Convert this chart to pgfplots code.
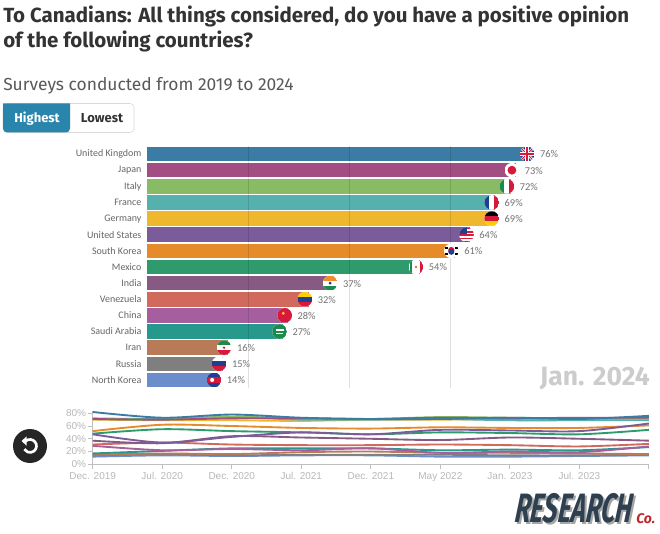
\documentclass[border=0pt]{standalone}
\usepackage{fontspec}
\setmainfont{Fira Sans}
\newfontfamily\arialf{Liberation Sans}
\newfontfamily\labelf{Carlito}
\usepackage{pgfplots}
\usepackage{pgfplotstable}
\pgfplotsset{compat=1.18}
% sizes are given in reference pixels, 1px = 0.75pt
\newcommand\fs[1]{\fontsize{\fpeval{#1*0.75}}{\fpeval{#1*0.9}}\selectfont}

\definecolor{cUK}{HTML}{3C7CA4}
\definecolor{cJP}{HTML}{A34E82}
\definecolor{cIT}{HTML}{88BB63}
\definecolor{cFR}{HTML}{56B1AE}
\definecolor{cDE}{HTML}{EFB72E}
\definecolor{cUS}{HTML}{7A5C9A}
\definecolor{cKR}{HTML}{E58B2A}
\definecolor{cMX}{HTML}{2F9A6C}
\definecolor{cIN}{HTML}{875A83}
\definecolor{cVE}{HTML}{D2695D}
\definecolor{cCN}{HTML}{A55F9F}
\definecolor{cSA}{HTML}{27988C}
\definecolor{cIR}{HTML}{B97A58}
\definecolor{cRU}{HTML}{7F7F7F}
\definecolor{cKP}{HTML}{6A8DCB}
\definecolor{fBlue}{HTML}{1F3F8F}
\definecolor{fRed}{HTML}{D7193C}
\definecolor{fGreen}{HTML}{1B8A4B}
\definecolor{fGold}{HTML}{FFCE00}
\definecolor{fOrange}{HTML}{F28C28}

% monthly survey lines, x = tick number on the timeline
\pgfplotstableread{
x UK JP IT FR DE US KR MX IN VE CN SA IR RU KP
0 82 71 71 72 70 47 52 48 37 31 29 17 15 14 12
1 73 70 70 71 69 34 62 55 33 34 22 21 17 16 14
2 78 72 75 74 69 43 60 52 44 31 24 25 16 14 13
3 73 72 71 70 68 50 57 50 42 30 22 25 19 15 14
4 71 71 71 70 70 47 56 47 40 30 25 25 20 15 14
5 71 73 74 71 70 54 58 50 38 31 18 22 18 15 12
6 73 72 73 69 71 53 57 49 42 30 20 23 18 14 12
7 71 73 72 69 72 52 57 47 40 28 19 22 17 14 13
8 76 73 72 69 69 64 61 54 37 32 28 27 16 15 14
}\surveys

% flags are plot marks, drawn in a circle of radius \fu
\newdimen\fu \fu=5.5pt
\newcommand\fr[5]{\pgfsetfillcolor{#1}\pgfpathrectanglecorners{\pgfpoint{#2\fu}{#3\fu}}{\pgfpoint{#4\fu}{#5\fu}}\pgfusepathqfill}
\newcommand\fc[4]{\pgfsetfillcolor{#1}\pgfpathcircle{\pgfpoint{#2\fu}{#3\fu}}{#4\fu}\pgfusepathqfill}
\newcommand\fl[6]{\pgfsetstrokecolor{#1}\pgfsetlinewidth{#2\fu}\pgfpathmoveto{\pgfpoint{#3\fu}{#4\fu}}\pgfpathlineto{\pgfpoint{#5\fu}{#6\fu}}\pgfusepathqstroke}
\newcommand\flag[2]{\pgfdeclareplotmark{#1}{\pgfscope\pgfpathcircle{\pgfpointorigin}{\fu}\pgfusepathqclip\fr{white}{-1}{-1}{1}{1}#2\endpgfscope}}
\flag{fUK}{\fr{fBlue}{-1}{-1}{1}{1}\fl{white}{.35}{-1}{-1}{1}{1}\fl{white}{.35}{-1}{1}{1}{-1}\fl{fRed}{.14}{-1}{-1}{1}{1}\fl{fRed}{.14}{-1}{1}{1}{-1}\fr{white}{-1}{-.25}{1}{.25}\fr{white}{-.25}{-1}{.25}{1}\fr{fRed}{-1}{-.13}{1}{.13}\fr{fRed}{-.13}{-1}{.13}{1}}
\flag{fJP}{\fc{fRed}{0}{0}{.6}}
\flag{fIT}{\fr{fGreen}{-1}{-1}{-.33}{1}\fr{fRed}{.33}{-1}{1}{1}}
\flag{fFR}{\fr{fBlue}{-1}{-1}{-.33}{1}\fr{fRed}{.33}{-1}{1}{1}}
\flag{fDE}{\fr{black}{-1}{.33}{1}{1}\fr{fRed}{-1}{-.33}{1}{.33}\fr{fGold}{-1}{-1}{1}{-.33}}
\flag{fUS}{\fr{fRed}{-1}{.72}{1}{1}\fr{fRed}{-1}{.28}{1}{.5}\fr{fRed}{-1}{-.16}{1}{.06}\fr{fRed}{-1}{-.6}{1}{-.38}\fr{fRed}{-1}{-1}{1}{-.82}\fr{fBlue}{-1}{.06}{.05}{1}}
\flag{fKR}{\fc{fRed}{0}{.12}{.42}\fc{fBlue}{0}{-.12}{.42}\fr{black}{-.85}{.3}{-.45}{.55}\fr{black}{.45}{.3}{.85}{.55}\fr{black}{-.85}{-.55}{-.45}{-.3}\fr{black}{.45}{-.55}{.85}{-.3}}
\flag{fMX}{\fr{fGreen}{-.82}{-1}{-.5}{1}\fr{fRed}{.5}{-1}{1}{1}\fc{brown}{0}{0}{.2}}
\flag{fIN}{\fr{fOrange}{-1}{.33}{1}{1}\fr{fGreen}{-1}{-1}{1}{-.33}\fc{fBlue}{0}{0}{.22}}
\flag{fVE}{\fr{fGold}{-1}{.33}{1}{1}\fr{fBlue}{-1}{-.33}{1}{.33}\fr{fRed}{-1}{-1}{1}{-.33}}
\flag{fCN}{\fr{fRed}{-1}{-1}{1}{1}\fc{fGold}{-.2}{.3}{.22}}
\flag{fSA}{\fr{fGreen}{-1}{-1}{1}{1}\fr{white}{-.55}{.05}{.55}{.4}\fr{white}{-.5}{-.35}{.5}{-.25}}
\flag{fIR}{\fr{fGreen}{-1}{.33}{1}{1}\fr{fRed}{-1}{-1}{1}{-.33}\fc{fRed}{0}{0}{.18}}
\flag{fRU}{\fr{fBlue}{-1}{-.33}{1}{.33}\fr{fRed}{-1}{-1}{1}{-.33}}
\flag{fKP}{\fr{fBlue}{-1}{.45}{1}{1}\fr{fBlue}{-1}{-1}{1}{-.45}\fr{fRed}{-1}{-.35}{1}{.35}\fc{white}{-.25}{0}{.28}}

\pgfplotsset{
  cbar/.style={xbar, bar width=10.9pt, bar shift=0pt, draw=none, fill=#1, forget plot,
    point meta=x, nodes near coords={\pgfmathprintnumber[assume math mode=true]{\pgfplotspointmeta}\%},
    nodes near coords style={anchor=west, inner sep=0pt, xshift=6.75pt, yshift=-.3pt, text=black!55, font=\labelf\fs{10.4}}},
  cflag/.style={only marks, mark=#1, mark options={xshift=-2.8pt}, forget plot},
  trail/.style={smooth, no marks, line width=1.4pt, color=#1, forget plot},
}

\begin{document}
\begin{tikzpicture}[x=0.75pt,y=-0.75pt]
\useasboundingbox (0,0) rectangle (660,534);
\fill[white] (0,0) rectangle (660,534);

% heading
\node[anchor=base west, inner sep=0pt, text=black!80] at (3,22.5) {\fs{20.5}\bfseries To Canadians: All things considered, do you have a positive opinion};
\node[anchor=base west, inner sep=0pt, text=black!80] at (3,48) {\fs{20.5}\bfseries of the following countries?};
\node[anchor=base west, inner sep=0pt, text=black!65] at (3,91) {\fs{17.4}Surveys conducted from 2019 to 2024};

% sort buttons
\draw[black!15, fill=white, rounded corners=3] (3,103.5) rectangle (134,132.5);
\fill[fill={rgb,255:red,42;green,133;blue,173}, rounded corners=3] (3,103.5) -- (3,132.5) -- (70,132.5) [sharp corners] -- (70,103.5) -- cycle;
\node[text=white, inner sep=0pt] at (37,118.5) {\fs{13}\bfseries Highest};
\node[text=black!80, inner sep=0pt] at (102,118.5) {\fs{13}\bfseries Lowest};

% bar race frame
\begin{axis}[
  at={(110.25pt,-291pt)}, anchor=south west,
  scale only axis, width=378.75pt, height=181.5pt,
  xmin=0, xmax=100, ymin=-0.5, ymax=14.5, y dir=reverse,
  xtick={20,40,60}, xticklabels={},
  ytick={0,...,14},
  yticklabels={United Kingdom,Japan,Italy,France,Germany,United States,South Korea,Mexico,India,Venezuela,China,Saudi Arabia,Iran,Russia,North Korea},
  yticklabel style={font=\labelf\fs{10}, text=black!60, inner sep=0pt, xshift=-4pt},
  axis line style={draw=none}, tick style={draw=none},
  major tick length=0pt,
  xmajorgrids, grid style={black, opacity=0.12, line width=0.75pt},
  axis on top, clip=false,
]
\addplot[cbar=cUK] coordinates {(76,0)};
\addplot[cbar=cJP] coordinates {(73,1)};
\addplot[cbar=cIT] coordinates {(72,2)};
\addplot[cbar=cFR] coordinates {(69,3)};
\addplot[cbar=cDE] coordinates {(69,4)};
\addplot[cbar=cUS] coordinates {(64,5)};
\addplot[cbar=cKR] coordinates {(61,6)};
\addplot[cbar=cMX] coordinates {(54,7)};
\addplot[cbar=cIN] coordinates {(37,8)};
\addplot[cbar=cVE] coordinates {(32,9)};
\addplot[cbar=cCN] coordinates {(28,10)};
\addplot[cbar=cSA] coordinates {(27,11)};
\addplot[cbar=cIR] coordinates {(16,12)};
\addplot[cbar=cRU] coordinates {(15,13)};
\addplot[cbar=cKP] coordinates {(14,14)};
\addplot[cflag=fUK] coordinates {(76,0)};
\addplot[cflag=fJP] coordinates {(73,1)};
\addplot[cflag=fIT] coordinates {(72,2)};
\addplot[cflag=fFR] coordinates {(69,3)};
\addplot[cflag=fDE] coordinates {(69,4)};
\addplot[cflag=fUS] coordinates {(64,5)};
\addplot[cflag=fKR] coordinates {(61,6)};
\addplot[cflag=fMX] coordinates {(54,7)};
\addplot[cflag=fIN] coordinates {(37,8)};
\addplot[cflag=fVE] coordinates {(32,9)};
\addplot[cflag=fCN] coordinates {(28,10)};
\addplot[cflag=fSA] coordinates {(27,11)};
\addplot[cflag=fIR] coordinates {(16,12)};
\addplot[cflag=fRU] coordinates {(15,13)};
\addplot[cflag=fKP] coordinates {(14,14)};
\end{axis}

% current date
\node[anchor=base east, inner sep=0pt, text=black!20] at (650,385) {\fs{26.5}\bfseries Jan. 2024};

% timeline
\begin{axis}[
  at={(69.525pt,-348.225pt)}, anchor=south west,
  scale only axis, width=417.2pt, height=40pt,
  xmin=0, xmax=8, ymin=0, ymax=83.6,
  axis x line=bottom, axis y line=left,
  axis line style={-, black!25, line width=0.75pt},
  tick style={black!25, line width=0.75pt},
  tick align=outside, major tick length=3.75pt,
  xtick={0,...,8},
  xticklabels={Dec. 2019,Jul. 2020,Dec. 2020,Jul. 2021,Dec. 2021,May 2022,Jan. 2023,Jul. 2023,},
  ytick={0,20,40,60,80},
  yticklabel={\pgfmathprintnumber{\tick}\%},
  /pgf/number format/assume math mode=true,
  ticklabel style={font=\arialf\fs{10}, text=black!28},
  xticklabel style={inner sep=0pt, yshift=-2pt},
  yticklabel style={inner sep=0pt, xshift=-1pt},
  clip=false,
]
\addplot[trail=cKP] table[x=x,y=KP] {\surveys};
\addplot[trail=cRU] table[x=x,y=RU] {\surveys};
\addplot[trail=cIR] table[x=x,y=IR] {\surveys};
\addplot[trail=cSA] table[x=x,y=SA] {\surveys};
\addplot[trail=cCN] table[x=x,y=CN] {\surveys};
\addplot[trail=cVE] table[x=x,y=VE] {\surveys};
\addplot[trail=cIN] table[x=x,y=IN] {\surveys};
\addplot[trail=cMX] table[x=x,y=MX] {\surveys};
\addplot[trail=cKR] table[x=x,y=KR] {\surveys};
\addplot[trail=cUS] table[x=x,y=US] {\surveys};
\addplot[trail=cDE] table[x=x,y=DE] {\surveys};
\addplot[trail=cFR] table[x=x,y=FR] {\surveys};
\addplot[trail=cIT] table[x=x,y=IT] {\surveys};
\addplot[trail=cJP] table[x=x,y=JP] {\surveys};
\addplot[trail=cUK] table[x=x,y=UK] {\surveys};
\end{axis}

% replay button
\fill[black!85] (30,446) circle (17);
\draw[white, line width=2pt] (25.8,441) arc[start angle=-130, end angle=150, radius=6.5];
\fill[white] (21.5,441) -- (26.5,436.5) -- (26.5,445.5) -- cycle;

% logo
\node[anchor=base west, inner sep=0pt, text=black!35, xslant=0.12, xscale=0.625] at (516,524) {\fs{41}\bfseries\itshape RESEARCH};
\node[anchor=base west, inner sep=0pt, text={rgb,255:red,46;green,64;blue,80}, xslant=0.12, xscale=0.625] at (514,522) {\fs{41}\bfseries\itshape RESEARCH};
\node[anchor=base west, inner sep=0pt, text={rgb,255:red,190;green,40;blue,45}] at (636,523) {\fs{14}\bfseries\itshape Co.};
\end{tikzpicture}
\end{document}
